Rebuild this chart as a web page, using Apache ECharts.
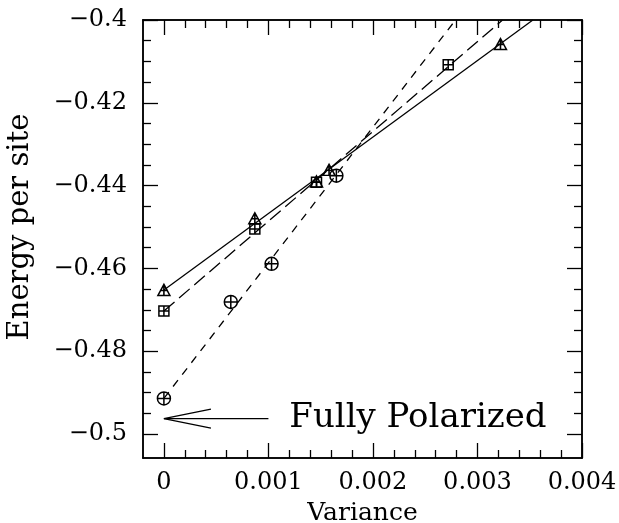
<!DOCTYPE html>
<html>
<head>
<meta charset="utf-8">
<title>Energy per site vs Variance</title>
<script src="https://cdn.jsdelivr.net/npm/echarts@6/dist/echarts.min.js"></script>
<style>
  html, body { margin: 0; padding: 0; background: #fff; }
  #chart { width: 619px; height: 523px; }
</style>
</head>
<body>
<div id="chart"></div>
<script>
// data points: [variance, energy]
const trianglePoints = [[0, -0.4652], [0.00087, -0.4479], [0.00146, -0.4390], [0.00158, -0.4362], [0.00322, -0.4058]]
const squarePoints = [[0, -0.4703], [0.00087, -0.4505], [0.00146, -0.4392], [0.00272, -0.4108]]
const circlePoints = [[0, -0.4914], [0.00064, -0.4681], [0.00103, -0.4589], [0.00165, -0.4376]]

// fitted lines, from x = 0 up to where they leave the top of the frame
const solidFit = [[0, -0.4652], [0.00353, -0.4]]
const longDashFit = [[0, -0.4703], [0.00324, -0.4]]
const shortDashFit = [[0, -0.4914], [0.00279, -0.4]]

// "Fully Polarized" arrow
const arrowShaft = [[0.001, -0.4963], [0, -0.4963]]
const arrowHead = [[0.00045, -0.4940], [0, -0.4963], [0.00045, -0.4986]]
const arrowLabelAt = [[0.00120, -0.4963]]
const arrowText = 'Fully Polarized'

// axes
const xRange = [-0.0002, 0.004]
const yRange = [-0.5058, -0.4]
const xTicks = [0, 0.001, 0.002, 0.003, 0.004]
const xMinorTicks = [0.0002, 0.0004, 0.0006, 0.0008, 0.0012, 0.0014, 0.0016, 0.0018,
  0.0022, 0.0024, 0.0026, 0.0028, 0.0032, 0.0034, 0.0036, 0.0038]
const yTicks = [-0.4, -0.42, -0.44, -0.46, -0.48, -0.5]
const yMinorTicks = [-0.405, -0.41, -0.415, -0.425, -0.43, -0.435, -0.445, -0.45, -0.455,
  -0.465, -0.47, -0.475, -0.485, -0.49, -0.495]

const FONT = 'DejaVu Serif'
const frameLine = { show: true, onZero: false, lineStyle: { color: '#000', width: 1.5 } }

const fmt = v => String(v).replace('-', '\u2212')

const makeX = (position, ticks, len, labels) => ({
  type: 'value',
  position: position,
  min: xRange[0],
  max: xRange[1],
  axisLine: frameLine,
  splitLine: { show: false },
  axisTick: { show: true, inside: true, length: len, customValues: ticks, lineStyle: { color: '#000', width: 1.3 } },
  axisLabel: labels ? {
    show: true, customValues: ticks, formatter: fmt, margin: 13,
    color: '#000', fontFamily: FONT, fontSize: 24
  } : { show: false },
  name: labels ? 'Variance' : '',
  nameLocation: 'middle',
  nameGap: 43,
  nameTextStyle: { color: '#000', fontFamily: FONT, fontSize: 25 }
})

const makeY = (position, ticks, len, labels) => ({
  type: 'value',
  position: position,
  min: yRange[0],
  max: yRange[1],
  axisLine: frameLine,
  splitLine: { show: false },
  axisTick: { show: true, inside: true, length: len, customValues: ticks, lineStyle: { color: '#000', width: 1.3 } },
  axisLabel: labels ? {
    show: true, customValues: ticks, formatter: fmt, margin: 16,
    color: '#000', fontFamily: FONT, fontSize: 24
  } : { show: false },
  name: labels ? 'Energy per site' : '',
  nameLocation: 'middle',
  nameGap: 108,
  nameTextStyle: { color: '#000', fontFamily: FONT, fontSize: 29, padding: [0, 0, 0, 24] }
})

const triangleSymbol = 'path://M0,-6L6,5L-6,5Z M0,-6L0,5 M-4,0L4,0'
const squareSymbol = 'path://M-5,-5L5,-5L5,5L-5,5Z M0,-5L0,5 M-5,0L5,0'
const circleSymbol = 'path://M-6,0A6,6 0 1,0 6,0A6,6 0 1,0 -6,0Z M0,-6L0,6 M-6,0L6,0'

const markerStyle = { color: 'none', borderColor: '#000', borderWidth: 1.5, opacity: 1 }

const fitLine = (data, dash) => ({
  type: 'line',
  data: data,
  showSymbol: false,
  symbol: 'none',
  clip: true,
  silent: true,
  lineStyle: { color: '#000', width: 1.3, type: dash }
})

const chart = echarts.init(document.getElementById('chart'))

const option = {
  backgroundColor: '#fff',
  animation: false,
  grid: { left: 143, right: 37, top: 20, bottom: 65, containLabel: false, outerBoundsMode: 'none' },
  xAxis: [
    makeX('bottom', xTicks, 15, true),
    makeX('bottom', xMinorTicks, 8, false),
    makeX('top', xTicks, 15, false),
    makeX('top', xMinorTicks, 8, false)
  ],
  yAxis: [
    makeY('left', yTicks, 15, true),
    makeY('left', yMinorTicks, 8, false),
    makeY('right', yTicks, 15, false),
    makeY('right', yMinorTicks, 8, false)
  ],
  series: [
    fitLine(solidFit, 'solid'),
    fitLine(longDashFit, [14, 6]),
    fitLine(shortDashFit, [8, 7]),
    {
      type: 'scatter',
      data: trianglePoints,
      symbol: triangleSymbol,
      symbolSize: [12, 11],
      itemStyle: markerStyle
    },
    {
      type: 'scatter',
      data: squarePoints,
      symbol: squareSymbol,
      symbolSize: [10, 10],
      itemStyle: markerStyle
    },
    {
      type: 'scatter',
      data: circlePoints,
      symbol: circleSymbol,
      symbolSize: [13, 13],
      itemStyle: markerStyle
    },
    fitLine(arrowShaft, 'solid'),
    fitLine(arrowHead, 'solid'),
    {
      type: 'scatter',
      data: arrowLabelAt,
      symbolSize: 0,
      itemStyle: { opacity: 1 },
      label: {
        show: true,
        position: 'right',
        distance: 0,
        formatter: arrowText,
        color: '#000',
        fontFamily: FONT,
        fontSize: 34
      }
    }
  ]
}

chart.setOption(option)
</script>
</body>
</html>
